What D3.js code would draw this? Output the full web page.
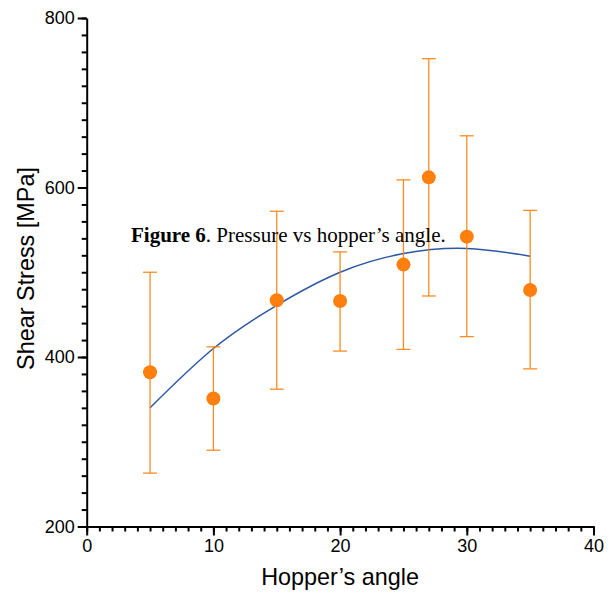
<!DOCTYPE html>
<html><head><meta charset="utf-8">
<script src="https://cdn.jsdelivr.net/npm/d3@7"></script>
<style>body{margin:0;background:#fff}</style></head>
<body><svg id="c" width="616" height="592"></svg>
<script>
const angles = [5, 10, 15, 20, 25, 27, 30, 35];
const stressMean = [382, 351, 467, 466, 509, 612, 542, 479];
const stressHigh = [500, 412, 572, 524, 609, 752, 661, 573];
const stressLow = [263, 290, 362, 407, 409, 472, 424, 386];
const fitX = [5, 10, 15, 20, 25, 30, 35];
const fitY = [340, 410, 461, 500, 522, 528, 519];
const xTicks = [0, 10, 20, 30, 40];
const yTicks = [200, 400, 600, 800];

const svg = d3.select("#c");
const x = d3.scaleLinear().domain([0, 40]).range([86.7, 593.5]);
const y = d3.scaleLinear().domain([200, 800]).range([526.5, 18]);
const orange = "#ff7f0e";
const font = "'Liberation Sans', Arial, sans-serif";

function styleAxis(g) {
  g.selectAll("line").attr("stroke", "#000").attr("stroke-width", 2);
  g.selectAll(".domain").attr("stroke", "#000").attr("stroke-width", 2);
  g.selectAll("text").attr("font-family", font).attr("font-size", 18).attr("fill", "#000");
}

// minor ticks
svg.append("g").attr("transform", `translate(0,${y(200)})`)
  .call(d3.axisBottom(x).tickValues(d3.range(0, 41, 1)).tickSize(5).tickFormat(""))
  .call(g => g.select(".domain").remove()).call(styleAxis);
svg.append("g").attr("transform", `translate(${x(0)},0)`)
  .call(d3.axisLeft(y).tickValues(d3.range(200, 801, 20)).tickSize(5).tickFormat(""))
  .call(g => g.select(".domain").remove()).call(styleAxis);
// major ticks
svg.append("g").attr("transform", `translate(0,${y(200)})`)
  .call(d3.axisBottom(x).tickValues(xTicks).tickSize(9).tickSizeOuter(0).tickPadding(4).tickFormat(d3.format("d")))
  .call(styleAxis);
svg.append("g").attr("transform", `translate(${x(0)},0)`)
  .call(d3.axisLeft(y).tickValues(yTicks).tickSize(9).tickSizeOuter(0).tickPadding(3).tickFormat(d3.format("d")))
  .call(styleAxis);

// fit curve
svg.append("path").datum(fitX.map((d, i) => [d, fitY[i]]))
  .attr("fill", "none").attr("stroke", "#2c57a3").attr("stroke-width", 1.5)
  .attr("d", d3.line().x(d => x(d[0])).y(d => y(d[1])).curve(d3.curveNatural));

// error bars
const data = angles.map((a, i) => ({a, m: stressMean[i], hi: stressHigh[i], lo: stressLow[i]}));
const eb = svg.append("g").attr("stroke", orange).attr("stroke-width", 1.3).attr("opacity", 0.9);
eb.selectAll(".v").data(data).join("line")
  .attr("x1", d => x(d.a)).attr("x2", d => x(d.a)).attr("y1", d => y(d.lo)).attr("y2", d => y(d.hi));
eb.selectAll(".t").data(data).join("line")
  .attr("x1", d => x(d.a) - 7).attr("x2", d => x(d.a) + 7).attr("y1", d => y(d.hi)).attr("y2", d => y(d.hi));
eb.selectAll(".b").data(data).join("line")
  .attr("x1", d => x(d.a) - 7).attr("x2", d => x(d.a) + 7).attr("y1", d => y(d.lo)).attr("y2", d => y(d.lo));

svg.append("g").selectAll("circle").data(data).join("circle")
  .attr("cx", d => x(d.a)).attr("cy", d => y(d.m)).attr("r", 7).attr("fill", orange);

// title
const t = svg.append("text").attr("x", 131).attr("y", 242)
  .attr("font-family", "'Liberation Serif', 'Times New Roman', serif").attr("font-size", 21).attr("fill", "#000");
t.append("tspan").attr("font-weight", "bold").text("Figure 6");
t.append("tspan").text(". Pressure vs hopper’s angle.");

// axis titles
svg.append("text").attr("x", x(20)).attr("y", 585).attr("text-anchor", "middle")
  .attr("font-family", font).attr("font-size", 23.4).text("Hopper’s angle");
svg.append("text").attr("transform", `translate(34,268.5) rotate(-90)`).attr("text-anchor", "middle")
  .attr("font-family", font).attr("font-size", 23.4).text("Shear Stress [MPa]");
</script></body></html>
